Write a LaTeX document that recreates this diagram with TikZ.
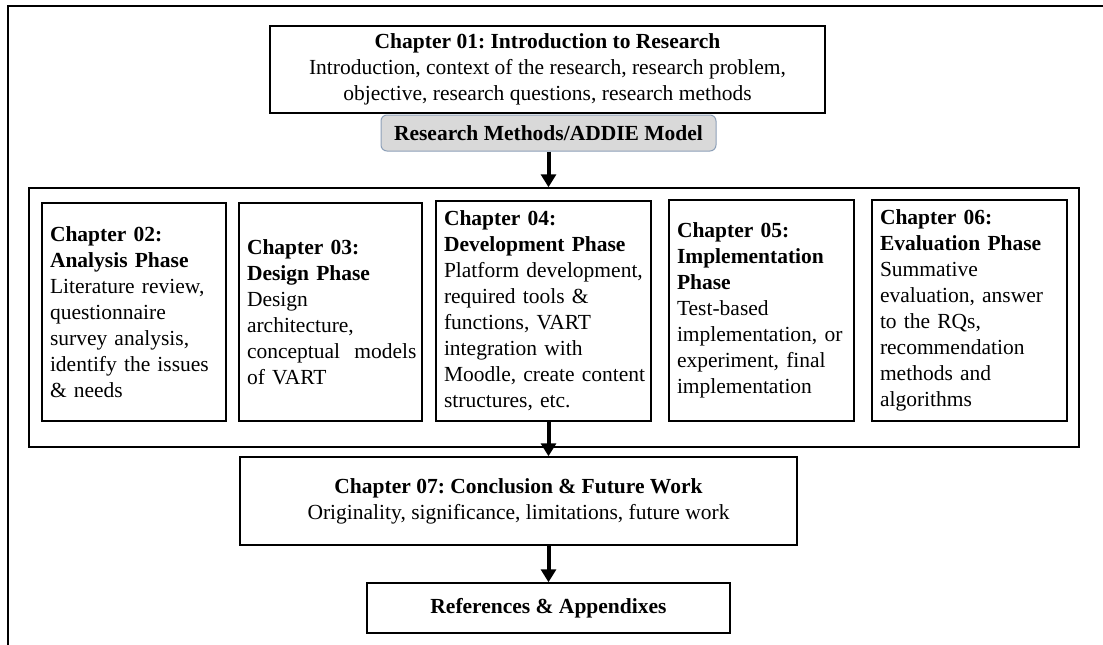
\documentclass[tikz,border=0pt]{standalone}
\usepackage{fontspec}
\setmainfont{Liberation Serif}
\usetikzlibrary{arrows.meta}
\definecolor{tabfill}{HTML}{D9D9D9}
\definecolor{tabline}{HTML}{8DA0B8}
\frenchspacing
\begin{document}
\begin{tikzpicture}[x=1pt,y=-1pt,
  font=\fontsize{21.5}{26}\selectfont,
  box/.style={draw=black, line width=1.5pt, inner sep=0pt, align=center},
  phase/.style={draw=black, line width=1.5pt, inner xsep=8pt, inner ysep=0pt, align=left},
  flow/.style={line width=4pt, -{Triangle[width=15pt,length=13pt]}}
]
\useasboundingbox (0,0) rectangle (1103,645);
% page frame
\draw[line width=2.5pt] (8,645) -- (8,6) -- (1103,6);

% chapter 1
\node[box, minimum width=555pt, minimum height=87pt] (ch01) at (547.5,69.5)
  {\textbf{Chapter 01: Introduction to Research}\\
   Introduction, context of the research, research problem,\\
   objective, research questions, research methods};
\node[draw=tabline, fill=tabfill, line width=1pt, rounded corners=6pt,
      minimum width=335pt, minimum height=36pt, inner sep=0pt] (rm) at (548.5,133)
  {\textbf{Research Methods/ADDIE Model}};

% ADDIE phases
\node[box, minimum width=1050pt, minimum height=259pt] (phases) at (554,317.5) {};
\node[phase, text width=168pt, minimum height=218pt] (ch02) at (134,312)
  {\textbf{Chapter 02:}\\ \textbf{Analysis Phase}\\ Literature review,\\ questionnaire\\
   survey analysis,\\ \mbox{identify the issues}\\ \& needs};
\node[phase, text width=167pt, minimum height=218pt] (ch03) at (330.5,312)
  {\textbf{Chapter 03:}\\ \textbf{Design Phase}\\ Design\\ architecture,\\
   \mbox{conceptual\ \ models}\\ of VART};
\node[phase, text width=199pt, minimum height=220pt] (ch04) at (543.5,311)
  {\textbf{Chapter 04:}\\ \textbf{Development Phase}\\ \mbox{Platform development,}\\
   required tools \&\\ functions, VART\\ integration with\\ \mbox{Moodle, create content}\\
   structures, etc.};
\node[phase, text width=169pt, minimum height=221pt] (ch05) at (761.5,310.5)
  {\textbf{Chapter 05:}\\ \textbf{Implementation}\\ \textbf{Phase}\\ Test-based\\
   \mbox{implementation, or}\\ experiment, final\\ implementation};
\node[phase, text width=179pt, minimum height=221pt] (ch06) at (969.5,310.5)
  {\textbf{Chapter 06:}\\ \textbf{Evaluation Phase}\\ Summative\\ \mbox{evaluation, answer}\\
   to the RQs,\\ recommendation\\ methods and\\ algorithms};

% conclusion and back matter
\node[box, minimum width=557pt, minimum height=88pt] (ch07) at (518.5,501)
  {\textbf{Chapter 07: Conclusion \& Future Work}\\
   Originality, significance, limitations, future work};
\node[box, minimum width=363pt, minimum height=50pt] (refs) at (548.5,608)
  {\textbf{References \& Appendixes}};

% connectors
\draw[flow] (rm.south) -- (phases.north -| rm.south);
\draw[flow] (ch04.south -| rm.south) -- (ch07.north -| rm.south);
\draw[flow] (ch07.south -| rm.south) -- (refs.north);
\end{tikzpicture}
\end{document}
